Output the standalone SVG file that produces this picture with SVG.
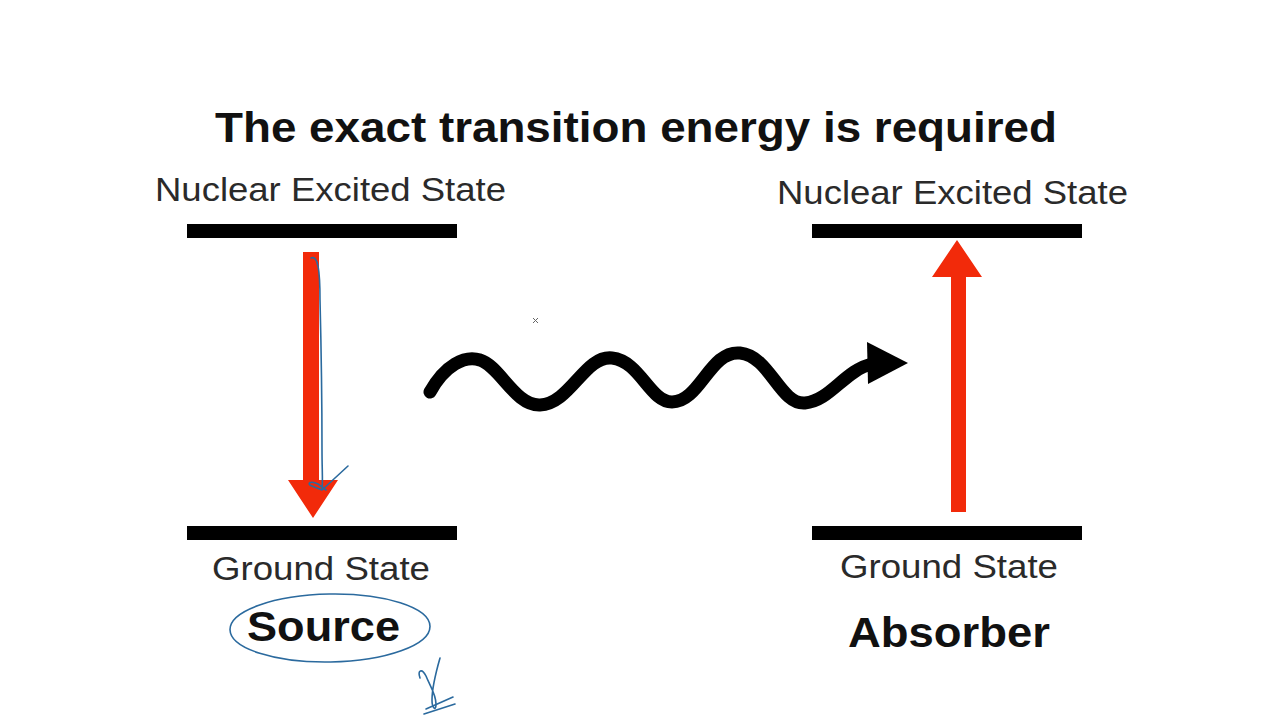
<svg xmlns="http://www.w3.org/2000/svg" width="1280" height="720" viewBox="0 0 1280 720">
<style>
.lbl{font-family:"Liberation Sans",Arial,sans-serif;fill:#2a2a2a;font-size:33px}
.bold{font-family:"Liberation Sans",Arial,sans-serif;font-weight:bold;fill:#111}
.bar{fill:#000}
.red{fill:#f22a0a}
.ink{fill:none;stroke:#2b6a9e;stroke-width:1.6;stroke-linecap:round;stroke-linejoin:round}
</style>
<rect width="1280" height="720" fill="#fff"/>
<text class="bold" x="215" y="142" font-size="42" textLength="842" lengthAdjust="spacingAndGlyphs">The exact transition energy is required</text>
<g id="source-excited">
<text class="lbl" x="155" y="201" textLength="351" lengthAdjust="spacingAndGlyphs">Nuclear Excited State</text>
<rect class="bar" x="187" y="224" width="270" height="14"/>
</g>
<g id="source-ground">
<rect class="bar" x="187" y="526" width="270" height="14"/>
<text class="lbl" x="212" y="580" textLength="218" lengthAdjust="spacingAndGlyphs">Ground State</text>
<text class="bold" x="247" y="641" font-size="42" textLength="153" lengthAdjust="spacingAndGlyphs">Source</text>
</g>
<g id="absorber-excited">
<text class="lbl" x="777" y="204" textLength="351" lengthAdjust="spacingAndGlyphs">Nuclear Excited State</text>
<rect class="bar" x="812" y="224" width="270" height="14"/>
</g>
<g id="absorber-ground">
<rect class="bar" x="812" y="526" width="270" height="14"/>
<text class="lbl" x="840" y="578" textLength="218" lengthAdjust="spacingAndGlyphs">Ground State</text>
<text class="bold" x="848" y="647" font-size="42" textLength="202" lengthAdjust="spacingAndGlyphs">Absorber</text>
</g>
<g id="connectors">
<polygon class="red" points="303,252 319,252 319,480 338,480 313,518 288,480 303,480"/>
<polygon class="red" points="951,512 966,512 966,277 982,277 957,240 932,277 951,277"/>
<path d="M430,392 C445,365 465,355 480,360 C500,366 515,406 540,405 C570,404 585,355 612,358 C640,361 650,402 672,402 C700,402 710,350 740,353 C770,356 780,405 805,403 C830,401 845,370 872,364" fill="none" stroke="#000" stroke-width="13" stroke-linecap="round"/>
<polygon points="867,342 908,363 868,384" fill="#000"/>
</g>
<g id="annotations">
<path class="ink" d="M311,258 C318,255 320,270 320,300 C321,340 322,400 322,450 C322,470 323,482 322,490 L312,486 C306,484 310,480 318,484 L326,490 M322,490 L348,466"/>
<ellipse class="ink" cx="330" cy="628" rx="100" ry="34" transform="rotate(-1 330 628)"/>
<path class="ink" d="M420,678 C417,670 422,668 426,676 C430,686 436,694 436,704 C436,712 432,708 432,700 C432,688 436,672 440,658"/>
<path class="ink" d="M426,709 L453,697 M424,714 L455,704"/>
<path d="M533,318 L538,323 M538,318 L533,323" stroke="#666" stroke-width="1"/>
</g>
</svg>
